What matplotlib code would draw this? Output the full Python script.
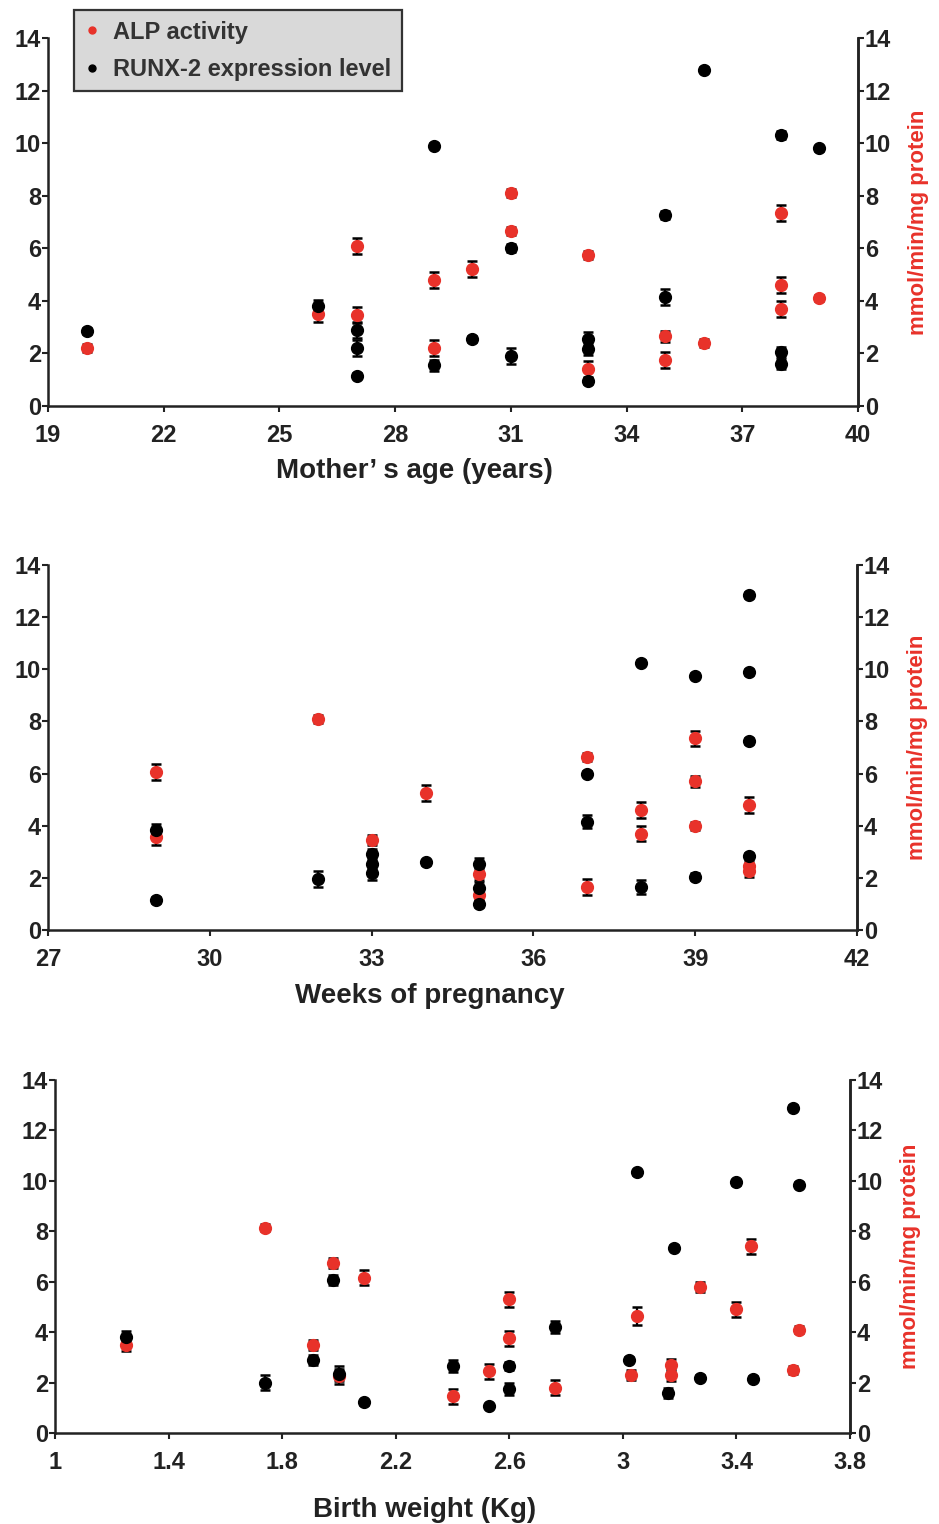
import matplotlib
matplotlib.use("Agg")
import matplotlib.pyplot as plt
from matplotlib.lines import Line2D

plt.rcParams["font.family"] = ["Liberation Sans", "DejaVu Sans"]
plt.rcParams["font.weight"] = "bold"

RED = "#e8322a"
INK = "#222222"

# Mother's age (years)
alp_age_x = [20, 26, 27, 27, 29, 29, 30, 31, 31, 33, 33, 35, 35, 36, 38, 38, 38, 39]
alp_age_y = [2.2, 3.5, 6.1, 3.45, 4.8, 2.2, 5.2, 8.1, 6.65, 5.75, 1.4, 2.65, 1.75, 2.4, 7.35, 4.6, 3.7, 4.1]
alp_age_err = [0.15, 0.3, 0.3, 0.3, 0.3, 0.3, 0.3, 0.15, 0.15, 0.15, 0.3, 0.2, 0.3, 0.15, 0.3, 0.3, 0.3, 0.12]
runx_age_x = [20, 26, 27, 27, 27, 29, 29, 30, 31, 31, 33, 33, 33, 35, 35, 36, 38, 38, 38, 39]
runx_age_y = [2.85, 3.8, 2.9, 2.2, 1.15, 9.9, 1.55, 2.55, 6.0, 1.9, 2.55, 2.15, 0.95, 7.25, 4.15, 12.8, 10.3, 2.05, 1.6, 9.8]
runx_age_err = [0.1, 0.25, 0.3, 0.3, 0.1, 0.1, 0.2, 0.1, 0.15, 0.3, 0.25, 0.2, 0.1, 0.15, 0.3, 0.1, 0.15, 0.2, 0.2, 0.1]

# Weeks of pregnancy
alp_wk_x = [29, 29, 32, 33, 34, 35, 35, 37, 37, 38, 38, 39, 39, 39, 40, 40, 40]
alp_wk_y = [6.05, 3.55, 8.1, 3.45, 5.25, 2.15, 1.35, 6.65, 1.65, 4.6, 3.7, 7.35, 5.7, 4.0, 4.8, 2.45, 2.25]
alp_wk_err = [0.3, 0.3, 0.15, 0.2, 0.3, 0.25, 0.2, 0.15, 0.3, 0.3, 0.3, 0.3, 0.2, 0.15, 0.3, 0.2, 0.2]
runx_wk_x = [29, 29, 32, 33, 33, 33, 34, 35, 35, 35, 37, 37, 38, 38, 39, 39, 40, 40, 40, 40]
runx_wk_y = [3.85, 1.15, 1.95, 2.9, 2.55, 2.2, 2.6, 2.55, 1.6, 1.0, 6.0, 4.15, 10.25, 1.65, 9.75, 2.05, 12.85, 9.9, 7.25, 2.85]
runx_wk_err = [0.2, 0.1, 0.3, 0.2, 0.2, 0.3, 0.1, 0.2, 0.25, 0.1, 0.1, 0.25, 0.1, 0.25, 0.1, 0.15, 0.1, 0.1, 0.1, 0.1]

# Birth weight (Kg)
alp_bw_x = [1.25, 1.74, 1.91, 1.98, 2.0, 2.09, 2.4, 2.53, 2.6, 2.6, 2.76, 3.03, 3.05, 3.17, 3.17, 3.27, 3.4, 3.45, 3.6, 3.62]
alp_bw_y = [3.5, 8.15, 3.5, 6.75, 2.25, 6.15, 1.45, 2.45, 5.3, 3.75, 1.8, 2.3, 4.65, 2.7, 2.3, 5.8, 4.9, 7.4, 2.5, 4.1]
alp_bw_err = [0.25, 0.15, 0.2, 0.2, 0.3, 0.3, 0.3, 0.3, 0.3, 0.3, 0.3, 0.2, 0.35, 0.25, 0.25, 0.2, 0.3, 0.3, 0.15, 0.15]
runx_bw_x = [1.25, 1.74, 1.91, 1.98, 2.0, 2.09, 2.4, 2.53, 2.6, 2.6, 2.76, 3.02, 3.05, 3.16, 3.18, 3.27, 3.4, 3.46, 3.6, 3.62]
runx_bw_y = [3.8, 2.0, 2.9, 6.05, 2.35, 1.22, 2.65, 1.07, 2.65, 1.75, 4.2, 2.9, 10.35, 1.6, 7.35, 2.2, 9.95, 2.15, 12.9, 9.85]
runx_bw_err = [0.25, 0.3, 0.2, 0.2, 0.3, 0.1, 0.25, 0.05, 0.15, 0.25, 0.25, 0.1, 0.1, 0.2, 0.1, 0.1, 0.1, 0.1, 0.1, 0.1]

panels = [
    dict(rect=[48, 38, 858, 406], xlim=(19, 40), xticks=[19, 22, 25, 28, 31, 34, 37, 40],
         xticklabels=None, xlabel="Mother\u2019 s age (years)", labxy=(0.453, -0.14),
         alp=(alp_age_x, alp_age_y, alp_age_err), runx=(runx_age_x, runx_age_y, runx_age_err)),
    dict(rect=[48, 565, 857, 930], xlim=(27, 42), xticks=[27, 30, 33, 36, 39, 42],
         xticklabels=None, xlabel="Weeks of pregnancy", labxy=(0.472, -0.145),
         alp=(alp_wk_x, alp_wk_y, alp_wk_err), runx=(runx_wk_x, runx_wk_y, runx_wk_err)),
    dict(rect=[55, 1080, 850, 1433], xlim=(1, 3.8), xticks=[1, 1.4, 1.8, 2.2, 2.6, 3, 3.4, 3.8],
         xticklabels=["1", "1.4", "1.8", "2.2", "2.6", "3", "3.4", "3.8"], xlabel="Birth weight (Kg)",
         labxy=(0.465, -0.18),
         alp=(alp_bw_x, alp_bw_y, alp_bw_err), runx=(runx_bw_x, runx_bw_y, runx_bw_err)),
]

W, H = 939, 1524
fig = plt.figure(figsize=(W / 100, H / 100), dpi=100)

for i, p in enumerate(panels):
    x0, y0, x1, y1 = p["rect"]
    ax = fig.add_axes([x0 / W, 1 - y1 / H, (x1 - x0) / W, (y1 - y0) / H])
    for (xs, ys, es), col in ((p["alp"], RED), (p["runx"], "black")):
        ax.errorbar(xs, ys, yerr=es, fmt="o", color=col, ecolor="black", ms=8.5,
                    elinewidth=1.6, capsize=3.5, capthick=1.8, zorder=3)
    ax.set_xlim(*p["xlim"])
    ax.set_ylim(0, 14)
    ax.set_xticks(p["xticks"])
    if p["xticklabels"]:
        ax.set_xticklabels(p["xticklabels"])
    ax.set_yticks(range(0, 15, 2))
    ax.spines["top"].set_visible(False)
    for s in ("left", "bottom", "right"):
        ax.spines[s].set_linewidth(1.8)
        ax.spines[s].set_color(INK)
    ax.tick_params(axis="both", direction="out", length=4, width=1.5, colors=INK,
                   labelsize=17, labelcolor=INK)
    ax.tick_params(axis="x", pad=9)
    ax.tick_params(axis="y", pad=1)
    for lab in ax.get_xticklabels() + ax.get_yticklabels():
        lab.set_fontweight("bold")
    ax.set_xlabel(p["xlabel"], fontsize=20, fontweight="bold", color=INK)
    ax.xaxis.set_label_coords(*p["labxy"])

    ax2 = ax.twinx()
    ax2.set_ylim(0, 14)
    ax2.set_yticks(range(0, 15, 2))
    for s in ("top", "left", "bottom"):
        ax2.spines[s].set_visible(False)
    ax2.spines["right"].set_linewidth(1.8)
    ax2.spines["right"].set_color(INK)
    ax2.tick_params(axis="y", direction="out", length=4, width=1.5, colors=INK,
                    labelsize=17, labelcolor=INK, pad=1)
    for lab in ax2.get_yticklabels():
        lab.set_fontweight("bold")
    ax2.set_ylabel("mmol/min/mg protein", fontsize=16, fontweight="bold", color=RED, labelpad=12)

    if i == 0:
        handles = [Line2D([], [], ls="none", marker="o", ms=5, color=RED),
                   Line2D([], [], ls="none", marker="o", ms=5, color="black")]
        leg = fig.legend(handles, ["ALP activity", "RUNX-2 expression level"],
                         loc="upper left", bbox_to_anchor=(74 / W, 1 - 10 / H),
                         fancybox=False, framealpha=1, facecolor="#d9d9d9", edgecolor="#333333",
                         prop={"size": 17, "weight": "bold"}, handlelength=0.6, handletextpad=0.6,
                         borderpad=0.45, labelspacing=0.6, borderaxespad=0)
        leg.get_frame().set_linewidth(1.6)
        for t in leg.get_texts():
            t.set_color("#333333")

fig.savefig("out.png", dpi=100)
